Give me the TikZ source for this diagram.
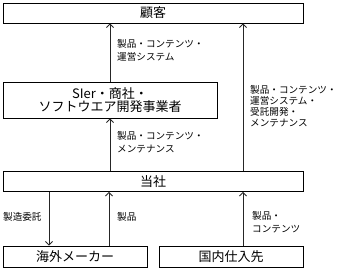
\documentclass[tikz,border=0pt]{standalone}
\usepackage{fontspec}
\setmainfont{Noto Sans CJK JP}
\usetikzlibrary{arrows.meta}
\begin{document}
\begin{tikzpicture}[x=1pt,y=-1pt,
  box/.style={draw=black,line width=0.9pt,minimum height=20pt,inner sep=0pt,font=\fontsize{13}{14.5}\selectfont,align=center},
  lbl/.style={anchor=north west,inner sep=0pt,align=left,font=\fontsize{9.6}{12.8}\selectfont},
  arr/.style={line width=0.8pt,draw=black!85,-{Straight Barb[length=3.5pt,width=7pt]}}]
\useasboundingbox (0,0) rectangle (337,269);
\node[box,minimum width=300pt] (kokyaku) at (153,13) {顧客};
\node[box,minimum width=214pt,minimum height=36pt] (sier) at (110,100) {SIer・商社・\\[-1.5pt]ソフトウエア開発事業者};
\node[box,minimum width=300pt] (tosha) at (153,181.5) {当社};
\node[box,minimum width=144pt,minimum height=21pt] (kaigai) at (75,256.5) {海外メーカー};
\node[box,minimum width=144pt,minimum height=21pt] (kokunai) at (231,256.5) {国内仕入先};
\coordinate (c2) at (243,0);
\coordinate (c3) at (49,0);
\coordinate (c4) at (109,0);
\draw[arr] (sier.north) -- (kokyaku.south -| sier.north);
\draw[arr] (tosha.north -| sier.south) -- (sier.south);
\draw[arr] (tosha.north -| c2) -- (kokyaku.south -| c2);
\draw[arr] (kokunai.north -| c2) -- (tosha.south -| c2);
\draw[arr] (tosha.south -| c3) -- (kaigai.north -| c3);
\draw[arr] (kaigai.north -| c4) -- (tosha.south -| c4);
\node[lbl] (l1) at (117,39) {製品・コンテンツ・\\運営システム};
\node[lbl,font=\fontsize{9.6}{11.2}\selectfont] (l2) at (250,85) {製品・コンテンツ・\\運営システム・\\受託開発・\\メンテナンス};
\node[lbl] (l3) at (117,131) {製品・コンテンツ・\\メンテナンス};
\node[lbl] (l4) at (3,212) {製造委託};
\node[lbl] (l5) at (117,212) {製品};
\node[lbl] (l6) at (252,211) {製品・\\コンテンツ};
\end{tikzpicture}
\end{document}
